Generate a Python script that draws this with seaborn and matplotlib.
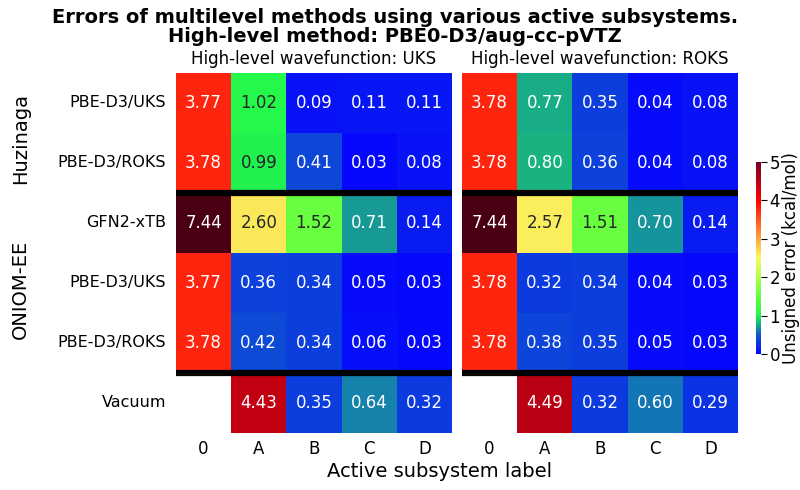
import numpy as np
import pandas as pd
import matplotlib
matplotlib.use("Agg")
import matplotlib.pyplot as plt
import seaborn as sns
from matplotlib.colors import LinearSegmentedColormap

# Data
methods = ["PBE-D3/UKS", "PBE-D3/ROKS", "GFN2-xTB", "PBE-D3/UKS", "PBE-D3/ROKS", "Vacuum"]
subsystems = ["0", "A", "B", "C", "D"]
groups = ["Huzinaga", "ONIOM-EE"]
panel_titles = ["High-level wavefunction: UKS", "High-level wavefunction: ROKS"]

uks_errors = [
    [3.77, 1.02, 0.09, 0.11, 0.11],
    [3.78, 0.99, 0.41, 0.03, 0.08],
    [7.44, 2.60, 1.52, 0.71, 0.14],
    [3.77, 0.36, 0.34, 0.05, 0.03],
    [3.78, 0.42, 0.34, 0.06, 0.03],
    [np.nan, 4.43, 0.35, 0.64, 0.32],
]
roks_errors = [
    [3.78, 0.77, 0.35, 0.04, 0.08],
    [3.78, 0.80, 0.36, 0.04, 0.08],
    [7.44, 2.57, 1.51, 0.70, 0.14],
    [3.78, 0.32, 0.34, 0.04, 0.03],
    [3.78, 0.38, 0.35, 0.05, 0.03],
    [np.nan, 4.49, 0.32, 0.60, 0.29],
]

# colour map: blue -> green -> yellow -> red -> dark red
cmap = LinearSegmentedColormap.from_list("err", [
    (0.0, (0.02, 0.02, 1.0)),
    (0.1, (0.06, 0.35, 0.80)),
    (0.2, (0.13, 0.97, 0.29)),
    (0.3, (0.40, 1.0, 0.25)),
    (0.5, (0.98, 0.98, 0.38)),
    (0.8, (1.0, 0.0, 0.0)),
    (1.0, (0.45, 0.0, 0.15)),
])
cmap.set_over((0.29, 0.0, 0.07))

sns.set_style("white")
plt.rcParams.update({"text.color": "black", "axes.labelcolor": "black",
                     "xtick.color": "black", "ytick.color": "black"})

fig = plt.figure(figsize=(8, 4.9), dpi=100)
ax1 = fig.add_axes([0.22, 0.117, 0.345, 0.7346])
ax2 = fig.add_axes([0.5775, 0.117, 0.345, 0.7346])
cax = fig.add_axes([0.945, 0.2776, 0.0065, 0.392])

for i, (ax, vals) in enumerate(zip([ax1, ax2], [uks_errors, roks_errors])):
    df = pd.DataFrame(vals, columns=subsystems)
    sns.heatmap(df, ax=ax, cmap=cmap, vmin=0, vmax=5, annot=True, fmt=".2f",
                annot_kws={"fontsize": 12},
                cbar=(i == 1), cbar_ax=cax if i == 1 else None,
                xticklabels=subsystems,
                yticklabels=methods if i == 0 else False)
    ax.axhline(2, color="black", lw=4.5)
    ax.axhline(5, color="black", lw=4.5)
    ax.set_title(panel_titles[i], fontsize=12, pad=6)
    ax.tick_params(axis="y", length=0, labelsize=11.5, pad=7)
    ax.tick_params(axis="x", length=0, labelsize=12, pad=5)
    ax.set_xticklabels(subsystems, rotation=0)
    if i == 0:
        ax.set_yticklabels(methods, rotation=0)
    ax.set_xlabel("")
    ax.set_ylabel("")

cax.tick_params(labelsize=12, length=4, pad=2)
cax.set_yticks([0, 1, 2, 3, 4, 5])
cax.set_ylabel("Unsigned error (kcal/mol)", fontsize=12, labelpad=1)
for s in cax.spines.values():
    s.set_visible(False)

fig.text(0.026, 0.718, groups[0], rotation=90, fontsize=14, ha="center", va="center")
fig.text(0.026, 0.41, groups[1], rotation=90, fontsize=14, ha="center", va="center")
fig.text(0.55, 0.038, "Active subsystem label", fontsize=14, ha="center", va="center")
fig.suptitle("Errors of multilevel methods using various active subsystems.\n"
             "High-level method: PBE0-D3/aug-cc-pVTZ",
             fontsize=14, fontweight="bold", x=0.494, y=0.984, linespacing=1.0)

fig.savefig("out.png", dpi=100)
